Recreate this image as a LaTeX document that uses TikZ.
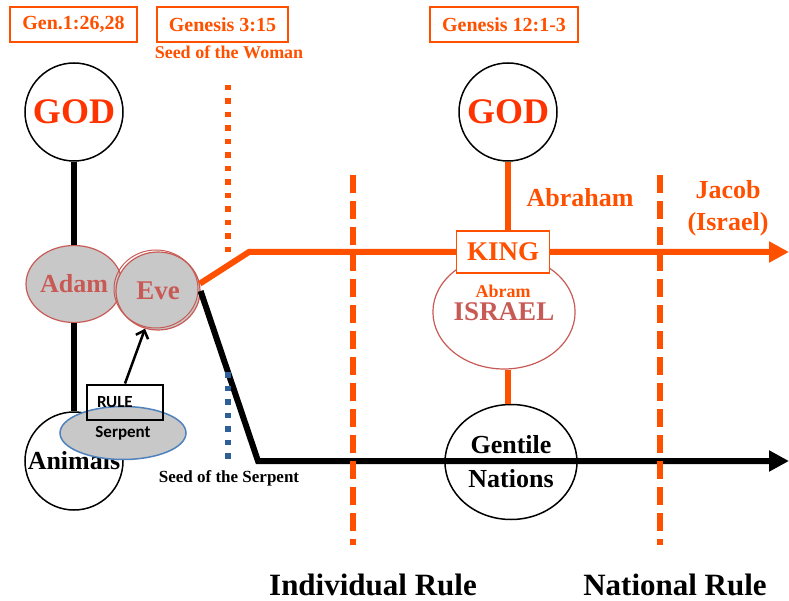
\documentclass[tikz,border=0pt]{standalone}
\usepackage{fontspec}
\setmainfont{Liberation Serif}
\newfontfamily\calib{Carlito}
\usetikzlibrary{positioning,calc,arrows.meta,shapes.geometric}
\definecolor{ornj}{RGB}{255,80,0}
\definecolor{godred}{RGB}{255,51,0}
\definecolor{rose}{RGB}{200,90,85}
\definecolor{shade}{RGB}{200,200,200}
\definecolor{steel}{RGB}{79,129,189}
\definecolor{dotblue}{RGB}{46,95,152}
\newcommand{\fs}[2]{\fontsize{#1}{#2}\selectfont\bfseries}
\tikzset{
  ref/.style={draw=ornj,line width=1.8pt,text=ornj,font=\fs{20}{24},minimum height=35pt,inner sep=0pt},
  godc/.style={circle,draw,line width=1.5pt,minimum size=98pt,inner sep=0pt,text=godred,font=\fs{36}{40}},
  person/.style={ellipse,draw=rose,line width=1.2pt,fill=shade,text=rose,inner sep=0pt,font=\fs{26}{30}},
  bline/.style={line width=6pt,black},
  oline/.style={line width=6pt,ornj},
  era/.style={line width=6pt,ornj,dash pattern=on 18pt off 8pt},
  seed/.style={line width=5.5pt,dash pattern=on 5.5pt off 8pt},
  big/.style={-{Triangle[length=20pt,width=20pt]}}
}
\begin{document}
\begin{tikzpicture}[x=1pt,y=-1pt]
\useasboundingbox (0,0) rectangle (789,601);
\node[ref,minimum width=127pt] (gen1) at (73.5,24.5) {Gen.1:26,28};
\node[ref,minimum width=131pt] (gen3) at (222.5,24.5) {Genesis 3:15};
\node[ref,minimum width=148pt] (gen12) at (504,24.5) {Genesis 12:1-3};
\node[text=ornj,font=\fs{18}{20}] (woman) at (229,52) {Seed of the Woman};

\node[godc] (god1) at (74,112) {GOD};
\node[person,minimum width=84pt,minimum height=77pt] (adam) at (74,284) {Adam};
\node[person,minimum width=84pt,minimum height=78pt,font=\fs{27}{30}] (eve) at (158,291) {Eve};
\draw[draw=rose,line width=1pt] ($(eve.center)+(-2,-2)$) ellipse (42 and 39);
\node[circle,draw,line width=1.5pt,minimum size=98pt,inner sep=0pt,font=\fs{26}{30}] (animals) at (74,461) {Animals};
\draw[bline] (god1) -- (adam);
\draw[bline] (adam) -- (animals.north);
\node[ellipse,draw=steel,line width=1.5pt,fill=shade,minimum width=126pt,minimum height=53pt,inner sep=0pt,font=\calib\fs{17}{20}] (serpent) at (123,433) {Serpent};
\node[draw,line width=2pt,minimum width=76pt,minimum height=35pt,inner sep=0pt,text width=56pt,align=left,font=\calib\fs{17}{20}] (rule) at (125,402) {RULE};
\draw[line width=2.5pt,-{Straight Barb[length=7pt,width=13pt]}] (rule.north) -- (eve.251);

\coordinate (kink) at (249,252);
\coordinate (oend) at (789,252);
\coordinate (dip) at (258,461);
\coordinate (bend) at (789,461);
\draw[oline,big] (eve.10) -- (kink) -- (oend);
\draw[bline,big] (eve.east) -- (dip) -- (bend);

\coordinate (w1) at (228,85);
\coordinate (w2) at (228,258);
\draw[seed,ornj] (w1) -- (w2);
\coordinate (s1) at (228,372);
\coordinate (s2) at (228,460);
\draw[seed,dotblue] (s1) -- (s2);
\node[font=\fs{17}{20}] (sserp) at (229,478) {Seed of the Serpent};

\foreach \x/\n in {353/ind,660/nat} {
  \coordinate (\n top) at (\x,175);
  \coordinate (\n bot) at (\x,545);
  \draw[era] (\n top) -- (\n bot);
}

\node[godc] (god2) at (508,112) {GOD};
\node[ellipse,draw=rose,line width=1.2pt,minimum width=134pt,minimum height=114pt,inner sep=0pt,text=rose,font=\fs{27}{30}] (israel) at (504,312) {ISRAEL};
\node[text=ornj,inner sep=0pt,font=\fs{18}{20}] (abram) at (503,291) {Abram};
\node[fill=white,draw=ornj,line width=1.8pt,minimum width=93pt,minimum height=42pt,inner sep=0pt,text=ornj,font=\fs{27}{30}] (king) at (503,252) {KING};
\node[ellipse,draw,line width=1.5pt,minimum width=132pt,minimum height=115pt,inner sep=0pt,align=center,font=\fs{26}{34}] (gentile) at (511,462) {Gentile\\Nations};
\draw[oline] (god2.south) -- (god2.south |- king.north);
\draw[oline] (israel.south -| god2.south) -- (gentile.north -| god2.south);

\node[text=ornj,font=\fs{26}{30}] (abraham) at (580,198) {Abraham};
\node[text=ornj,align=center,font=\fs{26}{32}] (jacob) at (728,208) {Jacob\\(Israel)};

\node[font=\fs{31}{36}] (indiv) at (373,585) {Individual Rule};
\node[font=\fs{31}{36}] (natl) at (675,585) {National Rule};
\end{tikzpicture}
\end{document}
